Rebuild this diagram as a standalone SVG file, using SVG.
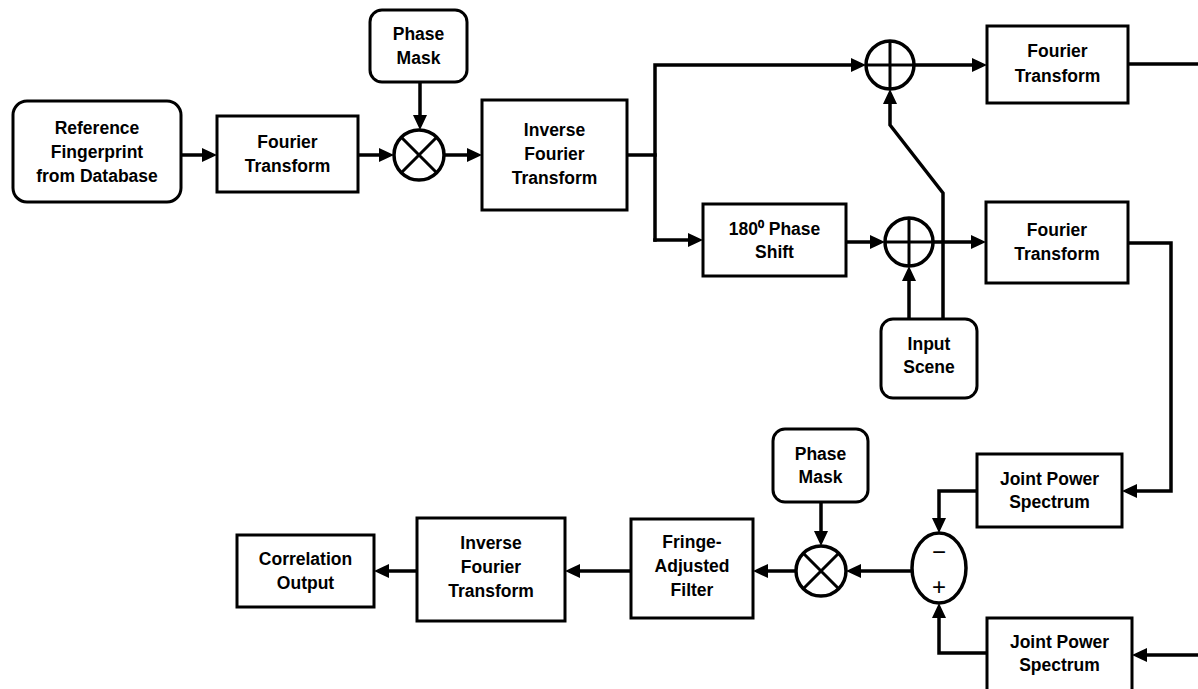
<svg xmlns="http://www.w3.org/2000/svg" width="1198" height="689" viewBox="0 0 1198 689">
<style>
.box{fill:#fff;stroke:#000;stroke-width:3}
.op{fill:#fff;stroke:#000;stroke-width:3.5}
.sym{fill:none;stroke:#000;stroke-width:3}
.ln{fill:none;stroke:#000;stroke-width:3.5;stroke-linecap:square;stroke-linejoin:miter}
.ar{marker-end:url(#ah)}
text{font-family:"Liberation Sans",Arial,sans-serif;font-weight:bold;font-size:17.5px;text-anchor:middle;fill:#000}
.sg{font-weight:normal;font-size:24px}
</style>
<defs>
<marker id="ah" viewBox="0 0 15 14" refX="9" refY="7" markerWidth="15" markerHeight="14" markerUnits="userSpaceOnUse" orient="auto">
<path d="M0,0 L15,7 L0,14 z" fill="#000"/>
</marker>
</defs>
<rect width="1198" height="689" fill="#fff"/>
<g id="connectors">
<path class="ln ar" d="M181,155 H211"/>
<path class="ln ar" d="M358,155 H388"/>
<path class="ln ar" d="M420,82 V124"/>
<path class="ln ar" d="M444,155 H476"/>
<path class="ln" d="M627,155 H655"/>
<path class="ln ar" d="M655,240 V65 H860"/>
<path class="ln ar" d="M655,240 H697"/>
<path class="ln ar" d="M914,65 H981"/>
<path class="ln" d="M1128,64 H1200"/>
<path class="ln ar" d="M846,242 H879"/>
<path class="ln ar" d="M933,242 H980"/>
<path class="ln ar" d="M909,319 V272"/>
<path class="ln ar" d="M943,319 V193 L890,125 V95"/>
<path class="ln ar" d="M1128,243 H1171 V491 H1128"/>
<path class="ln ar" d="M977,491 H939 V527"/>
<path class="ln ar" d="M1200,655 H1138"/>
<path class="ln ar" d="M987,653 H939 V609"/>
<path class="ln ar" d="M912,571 H852"/>
<path class="ln ar" d="M821,502 V540"/>
<path class="ln ar" d="M796,571 H759"/>
<path class="ln ar" d="M631,571 H571"/>
<path class="ln ar" d="M417,571 H380"/>
</g>
<g id="ref">
<rect class="box" x="13" y="101" width="168" height="101" rx="14"/>
<text x="97" y="134">Reference</text>
<text x="97" y="158">Fingerprint</text>
<text x="97" y="182">from Database</text>
</g>
<g id="ft1">
<rect class="box" x="217" y="116" width="141" height="76"/>
<text x="287.5" y="148">Fourier</text>
<text x="287.5" y="172">Transform</text>
</g>
<g id="mask1">
<rect class="box" x="370" y="10" width="97" height="72" rx="12"/>
<text x="418.5" y="40">Phase</text>
<text x="418.5" y="64">Mask</text>
</g>
<g id="mul1">
<circle class="op" cx="419" cy="155" r="25"/>
<path class="sym" d="M401.3,137.3 L436.7,172.7 M436.7,137.3 L401.3,172.7"/>
</g>
<g id="ift1">
<rect class="box" x="482" y="100" width="145" height="110"/>
<text x="554.5" y="136">Inverse</text>
<text x="554.5" y="160">Fourier</text>
<text x="554.5" y="184">Transform</text>
</g>
<g id="sum1">
<circle class="op" cx="890" cy="65" r="24"/>
<path class="sym" d="M866,65 H914 M890,41 V89"/>
</g>
<g id="ft2">
<rect class="box" x="987" y="26" width="141" height="77"/>
<text x="1057.5" y="57">Fourier</text>
<text x="1057.5" y="82">Transform</text>
</g>
<g id="shift">
<rect class="box" x="703" y="204" width="143" height="72"/>
<text x="774.5" y="235">180⁰ Phase</text>
<text x="774.5" y="258">Shift</text>
</g>
<g id="sum2">
<circle class="op" cx="909" cy="242" r="24"/>
<path class="sym" d="M885,242 H933 M909,218 V266"/>
</g>
<g id="ft3">
<rect class="box" x="986" y="202" width="142" height="81"/>
<text x="1057" y="236">Fourier</text>
<text x="1057" y="260">Transform</text>
</g>
<g id="scene">
<rect class="box" x="881" y="319" width="96" height="79" rx="12"/>
<text x="929" y="350">Input</text>
<text x="929" y="373">Scene</text>
</g>
<g id="jps1">
<rect class="box" x="977" y="454" width="145" height="73"/>
<text x="1049.5" y="485">Joint Power</text>
<text x="1049.5" y="508">Spectrum</text>
</g>
<g id="jps2">
<rect class="box" x="987" y="618" width="145" height="76"/>
<text x="1059.5" y="648">Joint Power</text>
<text x="1059.5" y="671">Spectrum</text>
</g>
<g id="diff">
<ellipse class="op" cx="939" cy="568" rx="27" ry="35"/>
<text class="sg" x="939" y="560">−</text>
<text class="sg" x="939" y="595">+</text>
</g>
<g id="mask2">
<rect class="box" x="773" y="429" width="95" height="73" rx="12"/>
<text x="820.5" y="460">Phase</text>
<text x="820.5" y="483">Mask</text>
</g>
<g id="mul2">
<circle class="op" cx="821" cy="571" r="25"/>
<path class="sym" d="M803.3,553.3 L838.7,588.7 M838.7,553.3 L803.3,588.7"/>
</g>
<g id="faf">
<rect class="box" x="631" y="519" width="122" height="99"/>
<text x="692" y="548">Fringe-</text>
<text x="692" y="572">Adjusted</text>
<text x="692" y="596">Filter</text>
</g>
<g id="ift2">
<rect class="box" x="417" y="518" width="148" height="103"/>
<text x="491" y="549">Inverse</text>
<text x="491" y="573">Fourier</text>
<text x="491" y="597">Transform</text>
</g>
<g id="corr">
<rect class="box" x="237" y="535" width="137" height="72"/>
<text x="305.5" y="565">Correlation</text>
<text x="305.5" y="589">Output</text>
</g>
</svg>
